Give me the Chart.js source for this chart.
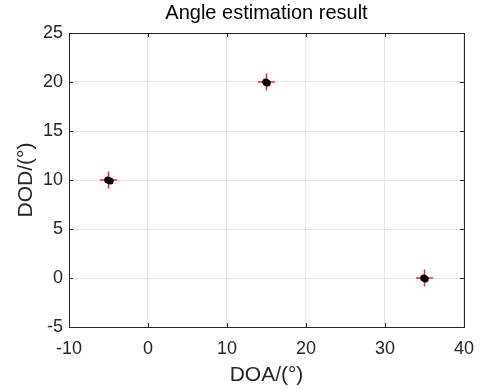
<!DOCTYPE html>
<html><head><meta charset="utf-8">
<script src="https://cdn.jsdelivr.net/npm/chart.js@4"></script>
<style>html,body{margin:0;padding:0;background:#fff}#w{width:485px;height:390px}</style>
</head><body><div id="w"><canvas id="c"></canvas></div>
<script>
const chartTitle='Angle estimation result';
const xTicks=[-10,0,10,20,30,40];
const yTicks=[-5,0,5,10,15,20,25];
const trueDOA=[-5,15,35];
const trueDOD=[10,20,0];
const estDOA=[-5.1,14.9,34.9];
const estDOD=[10.0,20.0,0.0];
const estDOA2=[-4.8,15.1,35.1];
const estDOD2=[9.9,19.9,-0.1];

const boxPlugin={id:'box',afterDraw(ch){
  const {ctx,chartArea:a,scales:{x,y}}=ch;
  ctx.save();
  ctx.strokeStyle='#262626';ctx.lineWidth=1;
  ctx.beginPath();
  xTicks.forEach(v=>{const p=Math.round(x.getPixelForValue(v))+0.5;
    ctx.moveTo(p,a.bottom);ctx.lineTo(p,a.bottom-4);ctx.moveTo(p,a.top);ctx.lineTo(p,a.top+4);});
  yTicks.forEach(v=>{const p=Math.round(y.getPixelForValue(v))+0.5;
    ctx.moveTo(a.left,p);ctx.lineTo(a.left+4,p);ctx.moveTo(a.right,p);ctx.lineTo(a.right-4,p);});
  ctx.stroke();
  ctx.strokeRect(Math.round(a.left)+0.5,Math.round(a.top)+0.5,Math.round(a.right-a.left),Math.round(a.bottom-a.top));
  ctx.fillStyle='#000';ctx.font='20px "Liberation Sans"';ctx.textAlign='center';ctx.textBaseline='alphabetic';
  ctx.fillText(chartTitle,(a.left+a.right)/2,19);
  ctx.restore();
}};

const pts=(xs,ys)=>xs.map((v,i)=>({x:v,y:ys[i]}));
new Chart(document.getElementById('c'),{
  type:'scatter',
  data:{datasets:[
    {data:pts(estDOA,estDOD),pointStyle:'circle',radius:3.5,backgroundColor:'#000',borderColor:'#000',borderWidth:0},
    {data:pts(estDOA2,estDOD2),pointStyle:'circle',radius:3.5,backgroundColor:'#000',borderColor:'#000',borderWidth:0},
    {data:pts(trueDOA,trueDOD),pointStyle:'cross',radius:8.5,borderColor:'rgba(255,0,0,0.85)',borderWidth:1.5,backgroundColor:'transparent'}
  ]},
  plugins:[boxPlugin],
  options:{
    responsive:true,maintainAspectRatio:false,animation:false,
    layout:{padding:{left:0,right:17,top:33,bottom:0}},
    plugins:{legend:{display:false},tooltip:{enabled:false},title:{display:false}},
    scales:{
      x:{type:'linear',min:-10,max:40,
        afterBuildTicks:s=>{s.ticks=xTicks.map(v=>({value:v}));},
        afterFit:s=>{s.height=63;},
        ticks:{color:'#262626',font:{family:'Liberation Sans',size:18},padding:11,maxRotation:0},
        grid:{color:'#e6e6e6',drawTicks:false},border:{display:false},
        title:{display:true,text:'DOA/(°)',color:'#262626',font:{family:'Liberation Sans',size:21},padding:{top:0,bottom:2}}},
      y:{type:'linear',min:-5,max:25,
        afterBuildTicks:s=>{s.ticks=yTicks.map(v=>({value:v}));},
        afterFit:s=>{s.width=69;},
        ticks:{color:'#262626',font:{family:'Liberation Sans',size:18},padding:6},
        grid:{color:'#e6e6e6',drawTicks:false},border:{display:false},
        title:{display:true,text:'DOD/(°)',color:'#262626',font:{family:'Liberation Sans',size:21},padding:{top:14,bottom:0}}}
    }
  }
});
</script></body></html>
